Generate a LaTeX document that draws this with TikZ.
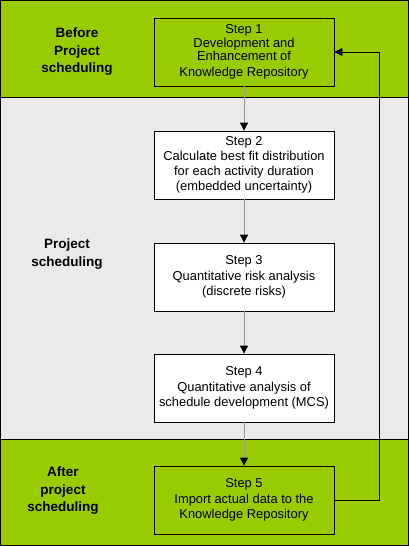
\documentclass[tikz,border=0pt]{standalone}
\usepackage{fontspec}
\setmainfont{Liberation Sans}
\usetikzlibrary{arrows.meta}
\definecolor{bandgreen}{HTML}{99CC00}
\definecolor{bandgray}{HTML}{EAEAEA}
\definecolor{flowgray}{HTML}{999999}
\tikzset{
	stepbox/.style={draw=black,thick,minimum width=180pt,minimum height=68pt,
		align=center,inner sep=2pt,font=\fontsize{12.9}{15.2}\selectfont},
	phaselabel/.style={align=center,font=\fontsize{13.5}{17.5}\selectfont\bfseries},
	flow/.style={draw=flowgray,thick,-{Triangle[color=black,length=8pt,width=8pt]}},
	back/.style={draw=black,thick,-{Triangle[length=8pt,width=8pt]}}
}
\begin{document}
\begin{tikzpicture}[x=1pt,y=-1pt]
		\useasboundingbox (0,0) rectangle (409,546);
		% bands
		\fill[bandgreen] (0,0) rectangle (409,97);
		\fill[bandgray] (0,97) rectangle (409,439);
		\fill[bandgreen] (0,439) rectangle (409,546);
		\draw[thick] (0.7,0.7) rectangle (408.3,545.3);
		\draw[thick] (0,97) -- (409,97);
		\draw[thick] (0,439) -- (409,439);
		
		\node[phaselabel] (before) at (77,52) {Before\\Project\\scheduling};
		\node[phaselabel] (during) at (67,254) {Project\\scheduling};
		\node[phaselabel] (after) at (63,491) {After\\project\\scheduling};
		
		\node[stepbox] (S1) at (244,52) {Step 1\\[-2pt] Development and\\[-2pt] Enhancement of\\[1pt] Knowledge Repository};
		\node[stepbox,fill=white] (S2) at (244,165) {Step 2\\ Calculate best fit distribution\\ for each activity duration\\ (embedded uncertainty)};
		\node[stepbox,fill=white] (S3) at (244,277) {Step 3\\ Quantitative risk analysis\\ (discrete risks)};
		\node[stepbox,fill=white] (S4) at (244,388) {Step 4\\ Quantitative analysis of\\ schedule development (MCS)};
		\node[stepbox] (S5) at (244,500) {Step 5\\ Import actual data to the\\ Knowledge Repository};
		
		\coordinate (loopbot) at (379,500);
		\coordinate (looptop) at (379,52);
		
		\path[flow] (S1) -- (S2);
		\path[flow] (S2) -- (S3);
		\path[flow] (S3) -- (S4);
		\path[flow] (S4) -- (S5);
		\path[back] (S5.east) -- (loopbot) -- (looptop) -- (S1.east);
		\end{tikzpicture}
\end{document}
